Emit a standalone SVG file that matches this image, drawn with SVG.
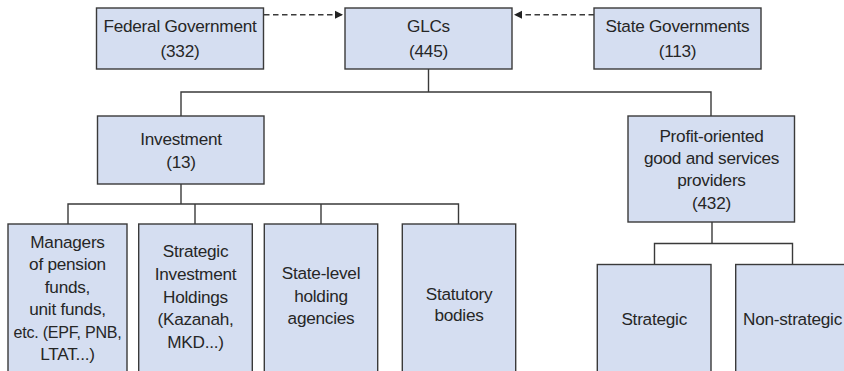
<svg xmlns="http://www.w3.org/2000/svg" width="844" height="371" viewBox="0 0 844 371">
<defs>
<style>
.box{fill:#d5def1;stroke:#3a3a3a;stroke-width:1.4}
.t{font-family:"Liberation Sans",Arial,sans-serif;font-size:17.2px;letter-spacing:-0.25px;fill:#262626;text-anchor:middle}
.ln{fill:none;stroke:#3a3a3a;stroke-width:1.4}
.dash{fill:none;stroke:#3a3a3a;stroke-width:1.4;stroke-dasharray:5.5 3.5}
</style>
<marker id="ah" viewBox="0 0 10 10" refX="10" refY="5" markerWidth="8" markerHeight="10" markerUnits="userSpaceOnUse" orient="auto">
<path d="M0,0 L10,5 L0,10 Z" fill="#222"/>
</marker>
</defs>
<rect width="844" height="371" fill="#fff"/>
<g id="connectors">
<line class="dash" x1="264" y1="14.7" x2="343" y2="14.7" marker-end="url(#ah)"/>
<line class="dash" x1="594" y1="14.7" x2="514" y2="14.7" marker-end="url(#ah)"/>
<polyline class="ln" points="428.5,69 428.5,92"/>
<polyline class="ln" points="181,116 181,92 711,92 711,116"/>
<polyline class="ln" points="181,184 181,204"/>
<polyline class="ln" points="68,224 68,204 458.5,204 458.5,224"/>
<line class="ln" x1="195" y1="204" x2="195" y2="224"/>
<line class="ln" x1="321" y1="204" x2="321" y2="224"/>
<polyline class="ln" points="712,222 712,243.5"/>
<polyline class="ln" points="654.5,264.5 654.5,243.5 792.5,243.5 792.5,264.5"/>
</g>
<g id="federal">
<rect class="box" x="96.5" y="8" width="167" height="61"/>
<text class="t" x="180" y="31.7">Federal Government</text>
<text class="t" x="180" y="57">(332)</text>
</g>
<g id="glcs">
<rect class="box" x="345" y="8" width="167" height="61"/>
<text class="t" x="428.5" y="31.7">GLCs</text>
<text class="t" x="428.5" y="57">(445)</text>
</g>
<g id="state">
<rect class="box" x="594" y="8" width="167" height="61"/>
<text class="t" x="677.5" y="31.7">State Governments</text>
<text class="t" x="677.5" y="57">(113)</text>
</g>
<g id="investment">
<rect class="box" x="97.5" y="116" width="166.5" height="68"/>
<text class="t" x="181" y="145">Investment</text>
<text class="t" x="181" y="167.5">(13)</text>
</g>
<g id="profit">
<rect class="box" x="628" y="116" width="166.5" height="106"/>
<text class="t" x="711.5" y="141.7">Profit-oriented</text>
<text class="t" x="711.5" y="164">good and services</text>
<text class="t" x="711.5" y="186.3">providers</text>
<text class="t" x="711.5" y="208.5">(432)</text>
</g>
<g id="managers">
<rect class="box" x="8" y="224" width="119" height="160"/>
<text class="t" x="67.5" y="247.5">Managers</text>
<text class="t" x="67.5" y="270">of pension</text>
<text class="t" x="67.5" y="292.5">funds,</text>
<text class="t" x="67.5" y="315">unit funds,</text>
<text class="t" x="67.5" y="337.5" textLength="108" lengthAdjust="spacingAndGlyphs">etc. (EPF, PNB,</text>
<text class="t" x="67.5" y="360">LTAT...)</text>
</g>
<g id="strategic-investment">
<rect class="box" x="138.7" y="224" width="113.6" height="160"/>
<text class="t" x="195.5" y="257.3">Strategic</text>
<text class="t" x="195.5" y="280">Investment</text>
<text class="t" x="195.5" y="302.5">Holdings</text>
<text class="t" x="195.5" y="325">(Kazanah,</text>
<text class="t" x="195.5" y="347.5">MKD...)</text>
</g>
<g id="state-level">
<rect class="box" x="264.3" y="224" width="113.4" height="160"/>
<text class="t" x="321" y="279.3">State-level</text>
<text class="t" x="321" y="301.7">holding</text>
<text class="t" x="321" y="324">agencies</text>
</g>
<g id="statutory">
<rect class="box" x="402.3" y="224" width="113.4" height="160"/>
<text class="t" x="459" y="300">Statutory</text>
<text class="t" x="459" y="321">bodies</text>
</g>
<g id="strategic">
<rect class="box" x="597.3" y="264.5" width="113.7" height="120"/>
<text class="t" x="654.2" y="325">Strategic</text>
</g>
<g id="non-strategic">
<rect class="box" x="735.7" y="264.5" width="114" height="120"/>
<text class="t" x="792.5" y="325">Non-strategic</text>
</g>
</svg>
